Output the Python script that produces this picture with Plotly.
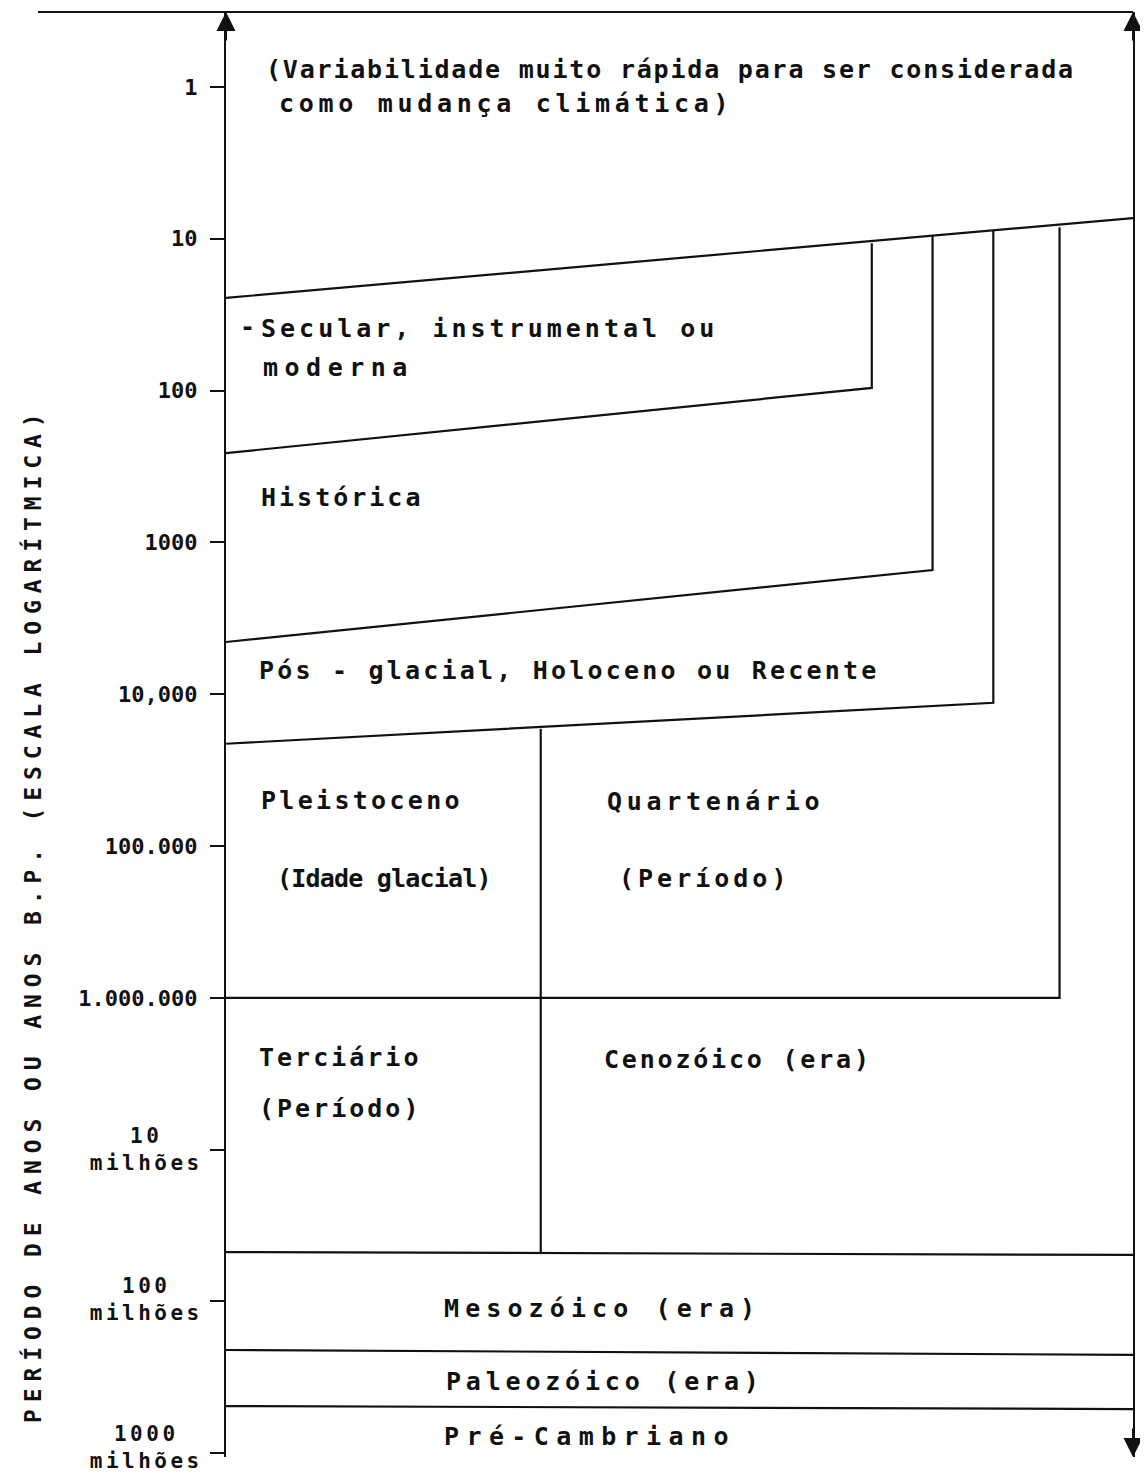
import json
import math
import plotly.graph_objects as go

# Limites entre os intervalos: posição horizontal (% da largura) e idade (anos B.P.)
variab_x = [0, 100]
variab_anos = [24.5, 7.3]

secular_x = [0, 71.2, 71.2]
secular_anos = [258, 96, 10.7]

historica_x = [0, 77.9, 77.9]
historica_anos = [4530, 1520, 9.6]

posglacial_x = [0, 84.6, 84.6]
posglacial_anos = [21200, 11400, 8.9]

quaternario_x = [0, 91.9, 91.9]
quaternario_anos = [1000000, 1000000, 8.4]

pleistoceno_x = [34.7, 34.7]
pleistoceno_anos = [16900, 47300000]

cenozoico_x = [0, 100]
cenozoico_anos = [47300000, 49400000]

mesozoico_x = [0, 100]
mesozoico_anos = [209000000, 225000000]

paleozoico_x = [0, 100]
paleozoico_anos = [489000000, 512000000]

tick_vals = [1, 10, 100, 1000, 10000, 100000, 1000000, 10000000, 100000000, 1000000000]
tick_text = ['1', '10', '100', '1000', '10,000', '100.000', '1.000.000', '', '', '']
milhoes_vals = [10000000, 100000000, 1000000000]
milhoes_text = ['10<br>milhões', '100<br>milhões', '1000<br>milhões']

rotulos = [
    '(Variabilidade muito rápida para ser considerada',
    'como mudança climática)',
    '-',
    'Secular, instrumental ou',
    'moderna',
    'Histórica',
    'Pós - glacial, Holoceno ou Recente',
    'Pleistoceno',
    '(Idade glacial)',
    'Quartenário',
    '(Período)',
    'Terciário',
    '(Período)',
    'Cenozóico (era)',
    'Mesozóico (era)',
    'Paleozóico (era)',
    'Pré-Cambriano',
]
titulo_y = 'PERÍODO DE ANOS OU ANOS B.P. (ESCALA LOGARÍTMICA)'

# posição dos rótulos em pixels da página (esquerda, centro vertical) e espaçamento entre letras
pos_rotulos = [
    (264, 70, 1.8), (277, 104, 4.7), (238, 326, 0), (259, 328, 4), (261, 367, 6.5),
    (259, 497, 3), (257, 670, 3.2), (259, 800, 3.3), (275, 878, -0.8),
    (605, 801, 4.7), (617, 878, 4), (257, 1057, 3), (257, 1108, 3),
    (602, 1059, 2.8), (442, 1308, 6.1), (444, 1381, 4.8), (442, 1436, 7.4),
]
# deslocamento vertical (px) dos rótulos "milhões"
milhoes_shift = [0, 2, 6]

# a página tem 8 px de margem no corpo
OFF = 8
W, H = 1148 - OFF, 1475 - OFF
ML, MR, MT, MB = 226 - OFF, 15, 12 - OFF, 18
FONTE = 'DejaVu Sans Mono'


def px_x(px):
    return (px - OFF - ML) / (W - ML - MR)


def px_y(py):
    return 1 - (py - OFF - MT) / (H - MT - MB)


fig = go.Figure()

linha = dict(color='#111', width=2.2)
for xs, ys in [
    (variab_x, variab_anos),
    (secular_x, secular_anos),
    (historica_x, historica_anos),
    (posglacial_x, posglacial_anos),
    (quaternario_x, quaternario_anos),
    (pleistoceno_x, pleistoceno_anos),
    (cenozoico_x, cenozoico_anos),
    (mesozoico_x, mesozoico_anos),
    (paleozoico_x, paleozoico_anos),
]:
    fig.add_trace(go.Scatter(x=xs, y=ys, mode='lines', line=linha,
                             hoverinfo='skip', showlegend=False, cliponaxis=False))

anots = []
espacos = []
for txt, (px, py, ls) in zip(rotulos, pos_rotulos):
    anots.append(dict(text=txt, x=px_x(px), y=px_y(py), xref='paper', yref='paper',
                      xanchor='left', yanchor='middle', align='left', showarrow=False,
                      font=dict(family=FONTE, size=25, color='#111', weight='bold')))
    espacos.append(ls)

for v, t, s in zip(milhoes_vals, milhoes_text, milhoes_shift):
    anots.append(dict(text=t, x=px_x(146), y=math.log10(v), xref='paper', yref='y',
                      xanchor='center', yanchor='middle', align='center', showarrow=False,
                      yshift=s, font=dict(family=FONTE, size=21, color='#111', weight='bold')))
    espacos.append(3.5)

anots.append(dict(text=titulo_y, x=px_x(32), y=px_y(915), xref='paper', yref='paper',
                  xanchor='center', yanchor='middle', textangle=-90, showarrow=False,
                  font=dict(family=FONTE, size=23, color='#111', weight='bold')))
espacos.append(6.9)

# setas nas extremidades dos eixos
for xx, yy, ay in [(0, 1, 30), (1, 1, 30), (1, 0, -30)]:
    anots.append(dict(x=xx, y=yy, xref='paper', yref='paper', ax=0, ay=ay, text='',
                      showarrow=True, arrowhead=2, arrowsize=1.9, arrowwidth=2,
                      arrowcolor='#111', standoff=0))
    espacos.append(0)

fig.update_layout(
    width=W, height=H,
    margin=dict(l=ML, r=MR, t=MT, b=MB),
    paper_bgcolor='white', plot_bgcolor='white',
    showlegend=False,
    xaxis=dict(range=[0, 100], visible=False),
    yaxis=dict(type='log', range=[9.025, -0.494], showline=True, mirror=True,
               linecolor='#111', linewidth=2.2, showgrid=False, zeroline=False,
               ticks='outside', ticklen=14, tickwidth=2, tickcolor='#111',
               tickvals=tick_vals, ticktext=tick_text, ticklabelstandoff=8,
               tickfont=dict(family=FONTE, size=22, color='#111', weight='bold')),
    annotations=anots,
    shapes=[dict(type='line', xref='paper', yref='paper', x0=px_x(38), x1=1, y0=1, y1=1,
                 line=dict(color='#111', width=2))],
)

js = """
var gd = document.getElementById('{plot_id}');
var ls = %s;
gd.querySelectorAll('g.annotation').forEach(function(g){
  var i = +g.getAttribute('data-index');
  var t = g.querySelector('text.annotation-text');
  if (t && ls[i]) { t.style.letterSpacing = ls[i] + 'px'; }
});
""" % json.dumps(espacos)

fig.write_html('out.html', post_script=js)
